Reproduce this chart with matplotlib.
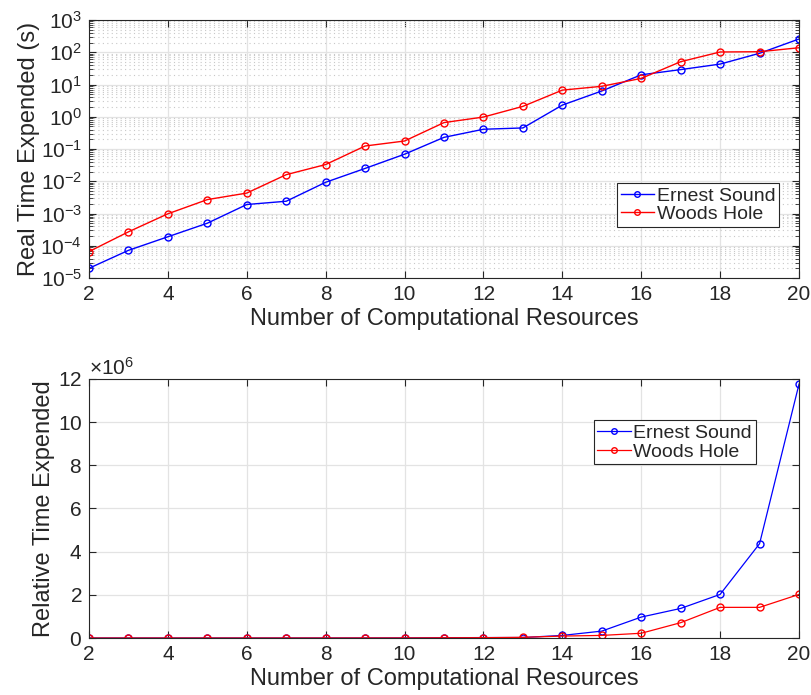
import numpy as np
import matplotlib.pyplot as plt
from matplotlib.ticker import LogLocator, NullFormatter, ScalarFormatter

plt.rcParams['font.family'] = ['Liberation Sans', 'DejaVu Sans']
plt.rcParams['mathtext.fontset'] = 'custom'
plt.rcParams['mathtext.rm'] = 'Liberation Sans'
plt.rcParams['text.color'] = '#262626'
plt.rcParams['axes.labelcolor'] = '#262626'
plt.rcParams['xtick.color'] = '#262626'
plt.rcParams['ytick.color'] = '#262626'

# Number of computational resources
recursos = np.arange(2, 21)

# Tempo real gasto (s)
real_ernest = [2.0e-5, 7.2e-5, 1.9e-4, 5.0e-4, 1.9e-3, 2.4e-3, 9.3e-3, 0.025, 0.069,
               0.23, 0.41, 0.45, 2.3, 6.3, 20, 29, 43, 93, 258]
real_woods = [6.6e-5, 2.7e-4, 9.8e-4, 2.7e-3, 4.3e-3, 0.016, 0.033, 0.124, 0.177,
              0.66, 0.98, 2.1, 6.7, 8.8, 15.5, 51, 102, 104, 138]

# Tempo relativo gasto
rel_ernest = [1, 3.6, 9.5, 25, 95, 120, 465, 1250, 3450, 11500, 20500, 22500,
              1.2e5, 3.2e5, 9.7e5, 1.37e6, 2.02e6, 4.37e6, 11.76e6]
rel_woods = [1, 4, 15, 41, 65, 240, 500, 1900, 2700, 10000, 15000, 32000,
             0.09e6, 0.12e6, 0.22e6, 0.71e6, 1.42e6, 1.42e6, 2.02e6]

nomes = ['Ernest Sound', 'Woods Hole']
cores = ['#0000ff', '#ff0000']

fig = plt.figure(figsize=(8.12, 6.95), dpi=100)
ax1 = fig.add_axes([0.1096, 0.6, 0.8744, 0.3712])
ax2 = fig.add_axes([0.1096, 0.082, 0.8744, 0.3727])

# posição do centro da legenda e espessura de linha em cada painel
pos_legenda = [(0.858, 0.283), (0.825, 0.755)]
espessura = [1.0, 0.9]

for i, (ax, dados) in enumerate([(ax1, [real_ernest, real_woods]),
                                 (ax2, [rel_ernest, rel_woods])]):
    for y, nome, cor in zip(dados, nomes, cores):
        ax.plot(recursos, y, color=cor, label=nome, marker='o', markersize=5,
                markerfacecolor='none', markeredgewidth=1.0, linewidth=espessura[i])
    ax.set_xlim(2, 20)
    ax.set_xticks(np.arange(2, 21, 2))
    ax.set_xlabel('Number of Computational Resources', fontsize=17, labelpad=3)
    ax.tick_params(direction='in', top=True, right=True, labelsize=15,
                   length=5, width=0.8, pad=5)
    ax.grid(True, which='major', color='#e3e3e3', linewidth=0.9)
    ax.set_axisbelow(True)
    for s in ax.spines.values():
        s.set_color('#262626')
        s.set_linewidth(0.8)
    leg = ax.legend(loc='center', bbox_to_anchor=pos_legenda[i], fontsize=14,
                    fancybox=False, framealpha=1, edgecolor='#262626',
                    handlelength=1.7, handletextpad=0.15, borderpad=0.2,
                    labelspacing=0.05, borderaxespad=0.0, markerscale=0.8)
    leg.get_frame().set_linewidth(0.8)

# Painel superior em escala log
ax1.set_yscale('log')
ax1.set_ylim(1e-5, 1e3)
ax1.yaxis.set_major_locator(LogLocator(base=10, numticks=20))
ax1.yaxis.set_minor_locator(LogLocator(base=10, subs=np.arange(2, 10), numticks=20))
ax1.yaxis.set_minor_formatter(NullFormatter())
ax1.tick_params(which='minor', direction='in', right=True, length=3, width=0.6)
ax1.grid(True, which='minor', axis='y', color='#c8c8c8', linestyle=(0, (1, 3)),
         linewidth=0.8)
ax1.set_ylabel('Real Time Expended (s)', fontsize=17, labelpad=0)

# Painel inferior linear, escala fixa em 10^6
ax2.set_ylim(0, 12e6)
ax2.set_yticks(np.arange(0, 12.1e6, 2e6))
fmt = ScalarFormatter(useMathText=True)
fmt.set_powerlimits((6, 6))
ax2.yaxis.set_major_formatter(fmt)
ax2.yaxis.get_offset_text().set_fontsize(15)
ax2.set_ylabel('Relative Time Expended', fontsize=17, labelpad=2)

fig.savefig('out.png', dpi=100)
